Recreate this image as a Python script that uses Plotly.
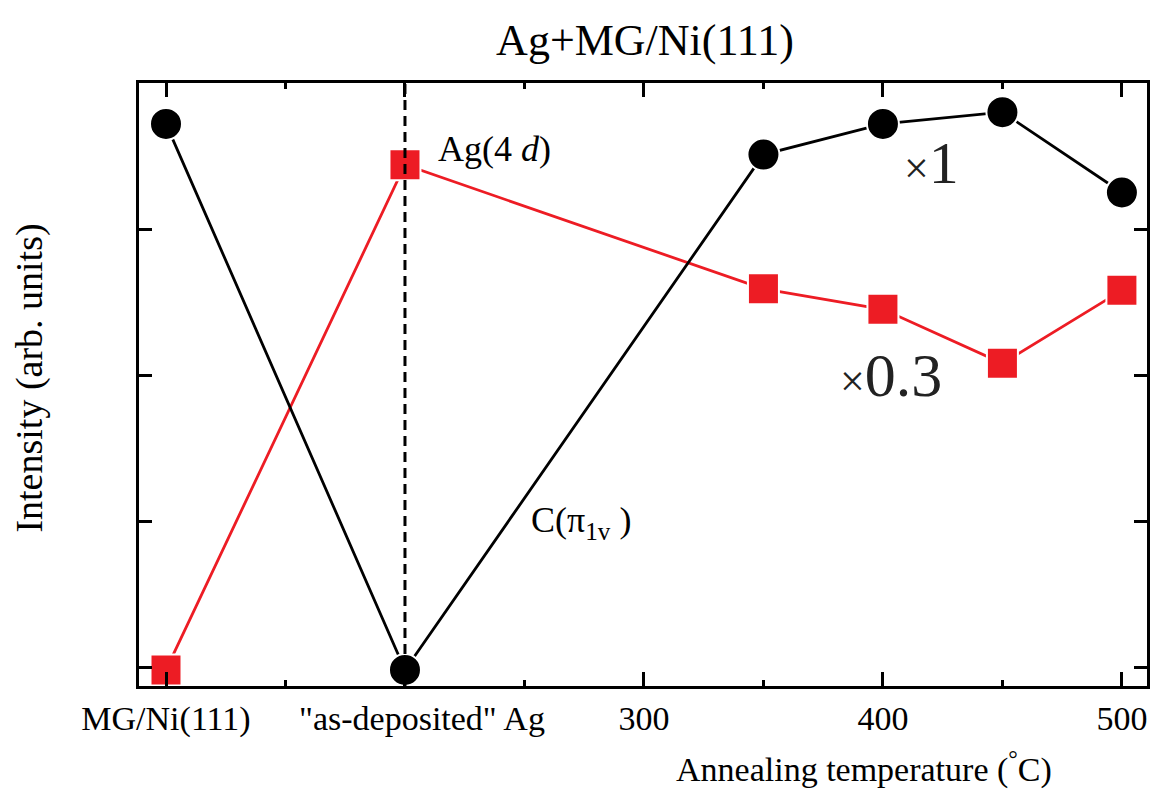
import plotly.graph_objects as go

# ---- data ----
x_temp = [100, 200, 350, 400, 450, 500]          # 100 -> MG/Ni(111), 200 -> "as-deposited" Ag
c_pi1v = [3.72, -0.02, 3.51, 3.72, 3.80, 3.25]    # C(pi_1v), x1
ag_4d = [-0.02, 3.44, 2.59, 2.45, 2.08, 2.58]     # Ag(4d), x0.3

tick_vals = [100, 200, 300, 400, 500]
tick_text = ["MG/Ni(111)", "&nbsp;&nbsp;&nbsp;&nbsp;\"as-deposited\" Ag", "300", "400", "500"]
y_ticks = [0, 1, 2, 3, 4]

FONT = "Liberation Serif"
RED = "#ED1C24"

fig = go.Figure()

fig.add_trace(go.Scatter(
    x=x_temp, y=ag_4d, mode="lines+markers",
    line=dict(color=RED, width=2.8),
    marker=dict(symbol="square", size=31, color=RED, line=dict(color="white", width=2)),
    cliponaxis=False, showlegend=False))

fig.add_trace(go.Scatter(
    x=x_temp, y=c_pi1v, mode="lines+markers",
    line=dict(color="black", width=2.8),
    marker=dict(symbol="circle", size=32, color="black", line=dict(color="white", width=2)),
    cliponaxis=False, showlegend=False))

fig.add_shape(type="line", xref="x", yref="paper", x0=200, x1=200, y0=0, y1=1,
              line=dict(color="black", width=3, dash="10px,6px"), layer="above")

fig.add_annotation(x=213, y=3.55, xref="x", yref="y", text="Ag(4 <i>d</i>)",
                   showarrow=False, xanchor="left", yanchor="middle",
                   font=dict(family=FONT, size=36, color="black"))
fig.add_annotation(x=252, y=0.99, xref="x", yref="y", text="C(π<sub>1v</sub> )",
                   showarrow=False, xanchor="left", yanchor="middle",
                   font=dict(family=FONT, size=36, color="black"))
fig.add_annotation(x=408, y=3.45, xref="x", yref="y",
                   text="<span style='font-size:44px'>×</span><span style='font-size:60px'>1</span>",
                   showarrow=False, xanchor="left", yanchor="middle", font=dict(family=FONT, size=60, color="#222"))
fig.add_annotation(x=381, y=2.0, xref="x", yref="y",
                   text="<span style='font-size:44px'>×</span><span style='font-size:62px'>0.3</span>",
                   showarrow=False, xanchor="left", yanchor="middle", font=dict(family=FONT, size=62, color="#222"))

# axis titles as annotations
fig.add_annotation(x=392, y=-0.135, xref="x", yref="paper", text="Annealing temperature (<sup>°</sup>C)",
                   showarrow=False, xanchor="center", yanchor="middle", font=dict(family=FONT, size=34, color="black"))
fig.add_annotation(x=-0.109, y=0.51, xref="paper", yref="paper", text="Intensity (arb. units)",
                   textangle=-90, showarrow=False, xanchor="center", yanchor="middle",
                   font=dict(family=FONT, size=38, color="black"))

fig.update_layout(
    width=1156, height=793,
    margin=dict(l=139, r=9, t=83, b=107, autoexpand=False),
    paper_bgcolor="white", plot_bgcolor="white",
    title=dict(text="Ag+MG/Ni(111)", x=645/1156, xanchor="center", y=1 - 40/793, yanchor="middle",
               yref="container", font=dict(family=FONT, size=44, color="black")),
    font=dict(family=FONT, color="black"),
)

fig.update_xaxes(
    range=[88.7, 510.5], showgrid=False, zeroline=False, automargin=False,
    showline=True, linecolor="black", linewidth=2.5, mirror="ticks",
    ticks="inside", ticklen=14, tickwidth=2.5, tickcolor="black",
    tickvals=tick_vals, ticktext=tick_text,
    tickfont=dict(family=FONT, size=34, color="black"),
    minor=dict(dtick=50, tick0=0, ticks="inside", ticklen=6, tickwidth=2.5, tickcolor="black", showgrid=False),
)
fig.update_yaxes(
    range=[-0.13, 4.0], showgrid=False, zeroline=False, automargin=False,
    showline=True, linecolor="black", linewidth=2.5, mirror="ticks",
    ticks="inside", ticklen=13, tickwidth=2.5, tickcolor="black",
    tickvals=y_ticks, showticklabels=False,
)

fig.write_html("out.html", config={"displayModeBar": False},
               post_script="document.body.style.margin='0';document.body.style.overflow='hidden';")
